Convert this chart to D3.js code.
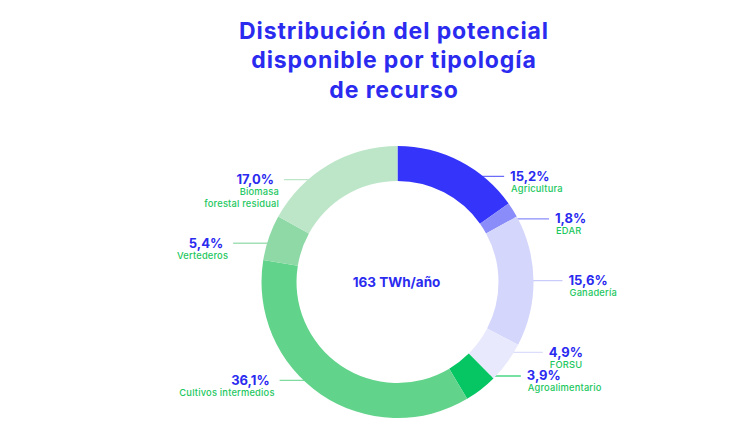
<!DOCTYPE html>
<html><head><meta charset="utf-8">
<script src="https://cdn.jsdelivr.net/npm/d3@7"></script>
<style>html,body{margin:0;padding:0;background:#fff;}svg{display:block;}</style>
</head><body>
<svg id="chart" width="750" height="429"></svg>
<script>
const titleLines = ["Distribución del potencial", "disponible por tipología", "de recurso"];
const centerLabel = "163 TWh/año";
const categories = ["Agricultura", "EDAR", "Ganadería", "FORSU", "Agroalimentario", "Cultivos intermedios", "Vertederos", "Biomasa forestal residual"];
const nameLines = [["Agricultura"], ["EDAR"], ["Ganadería"], ["FORSU"], ["Agroalimentario"], ["Cultivos intermedios"], ["Vertederos"], ["Biomasa", "forestal residual"]];
const values = [15.2, 1.8, 15.6, 4.9, 3.9, 36.1, 5.4, 17.0];
const pctLabels = ["15,2%", "1,8%", "15,6%", "4,9%", "3,9%", "36,1%", "5,4%", "17,0%"];
const colors = ["#3434fb", "#8a8cf9", "#d4d6fb", "#e8e9fd", "#06c664", "#62d38b", "#8ed9a6", "#bde6c9"];
const lineColors = ["#6c6cf8", "#8a8cf9", "#c9cbfa", "#dcdcfb", "#4ad684", "#7fdca0", "#a4e0b6", "#bde6c9"];
// layout constants
const leaderLen = [21, 31, 29, 29, 25, 24, 34, 24];

const svg = d3.select("#chart");
const cx = 397.5, cy = 282, rOuter = 136, rInner = 101;
const blue = "#2b2bf0", green = "#1cc760";

// title
svg.append("g").selectAll("text").data(titleLines).join("text")
  .attr("x", 394).attr("y", (d, i) => 39 + i * 29.3)
  .attr("text-anchor", "middle")
  .attr("font-family", "Inter, 'Open Sans', sans-serif")
  .attr("font-weight", 700).attr("font-size", 23)
  .attr("letter-spacing", 0.9)
  .attr("fill", blue).text(d => d);

const pie = d3.pie().sort(null).value(d => d).startAngle(0).endAngle(2 * Math.PI);
const arcs = pie(values);
const arcGen = d3.arc().innerRadius(rInner).outerRadius(rOuter);
const rMid = (rInner + rOuter) / 2 + 0.5;

const g = svg.append("g").attr("transform", `translate(${cx},${cy})`);

// leader lines (drawn behind arcs)
const lines = g.append("g");
const labels = g.append("g");
arcs.forEach((a, i) => {
  const mid = (a.startAngle + a.endAngle) / 2;
  const sx = rMid * Math.sin(mid), sy = -rMid * Math.cos(mid);
  const right = sx >= 0;
  const edge = Math.sqrt(Math.max(0, rOuter * rOuter - sy * sy));
  const ex = right ? edge + leaderLen[i] : -edge - leaderLen[i];
  lines.append("line").attr("x1", sx).attr("y1", sy).attr("x2", ex).attr("y2", sy)
    .attr("stroke", lineColors[i]).attr("stroke-width", 1.3);
  const tx = right ? ex + 6 : ex - 10;
  labels.append("text").attr("x", tx).attr("y", sy + 4.5)
    .attr("text-anchor", right ? "start" : "end")
    .attr("font-family", "Inter, sans-serif").attr("font-weight", 700).attr("font-size", 13)
    .attr("fill", blue).text(pctLabels[i]);
  nameLines[i].forEach((t, k) => {
    labels.append("text").attr("x", right ? ex + 7 : ex - 5).attr("y", sy + 15.3 + k * 12)
      .attr("text-anchor", right ? "start" : "end")
      .attr("font-family", "Inter, sans-serif").attr("font-weight", 500).attr("font-size", 9.3)
      .attr("letter-spacing", 0.2)
      .attr("fill", green).text(t);
  });
});

g.append("g").selectAll("path").data(arcs).join("path")
  .attr("d", arcGen).attr("fill", (d, i) => colors[i]);

g.append("text").attr("x", -1).attr("y", 5)
  .attr("text-anchor", "middle")
  .attr("font-family", "Inter, sans-serif").attr("font-weight", 700).attr("font-size", 13.5)
  .attr("fill", blue).text(centerLabel);
</script>
</body></html>
